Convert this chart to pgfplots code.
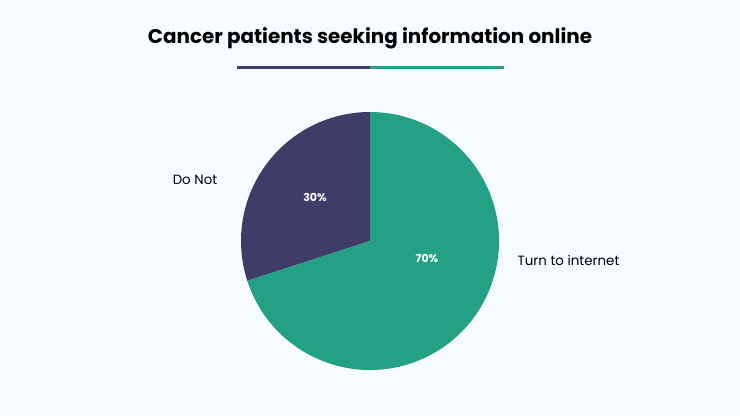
\documentclass[border=0pt]{standalone}
\usepackage{fontspec}
\setmainfont{Poppins}
\usepackage{pgfplots}
\usepackage{pgfplotstable}
\pgfplotsset{compat=1.18}
\definecolor{bg}{HTML}{F6FCFF}
\definecolor{purp}{HTML}{3F3D67}
\definecolor{grn}{HTML}{24A084}
\pgfplotstableread{
label value
DoNot 30
Internet 70
}\piedata
\pgfplotstablegetelem{0}{value}\of\piedata
\edef\va{\pgfplotsretval}
\pgfplotstablegetelem{1}{value}\of\piedata
\edef\vb{\pgfplotsretval}
\begin{document}
\begin{tikzpicture}
\useasboundingbox (0,0) rectangle (740pt,416pt);
\fill[bg] (0,0) rectangle (740pt,416pt);
\begin{axis}[
  x=1pt, y=1pt, xmin=0, xmax=740, ymin=0, ymax=416,
  anchor=south west, at={(0,0)}, hide axis, clip=false,
]
\fill[purp] (axis cs:370,175) -- ++(90:129pt) arc[start angle=90, delta angle={\va*3.6}, radius=129pt] -- cycle;
\fill[grn] (axis cs:370,175) -- ++({90+\va*3.6}:129pt) arc[start angle={90+\va*3.6}, delta angle={\vb*3.6}, radius=129pt] -- cycle;
\node[font=\bfseries\fontsize{11}{13}\selectfont, text=white] at (axis cs:315,219) {30\%};
\node[font=\bfseries\fontsize{11}{13}\selectfont, text=white] at (axis cs:427,158) {70\%};
\node[font=\fontsize{13.4}{15}\selectfont] at (axis cs:195,236) {Do Not};
\node[font=\fontsize{13.4}{15}\selectfont] at (axis cs:568.5,156) {Turn to internet};
\node[font=\bfseries\fontsize{19.9}{23}\selectfont] at (axis cs:370,377.5) {Cancer patients seeking information online};
\draw[purp, line width=3pt] (axis cs:237,348.5) -- (axis cs:370,348.5);
\draw[grn, line width=3pt] (axis cs:370,348.5) -- (axis cs:504,348.5);
\end{axis}
\end{tikzpicture}
\end{document}
